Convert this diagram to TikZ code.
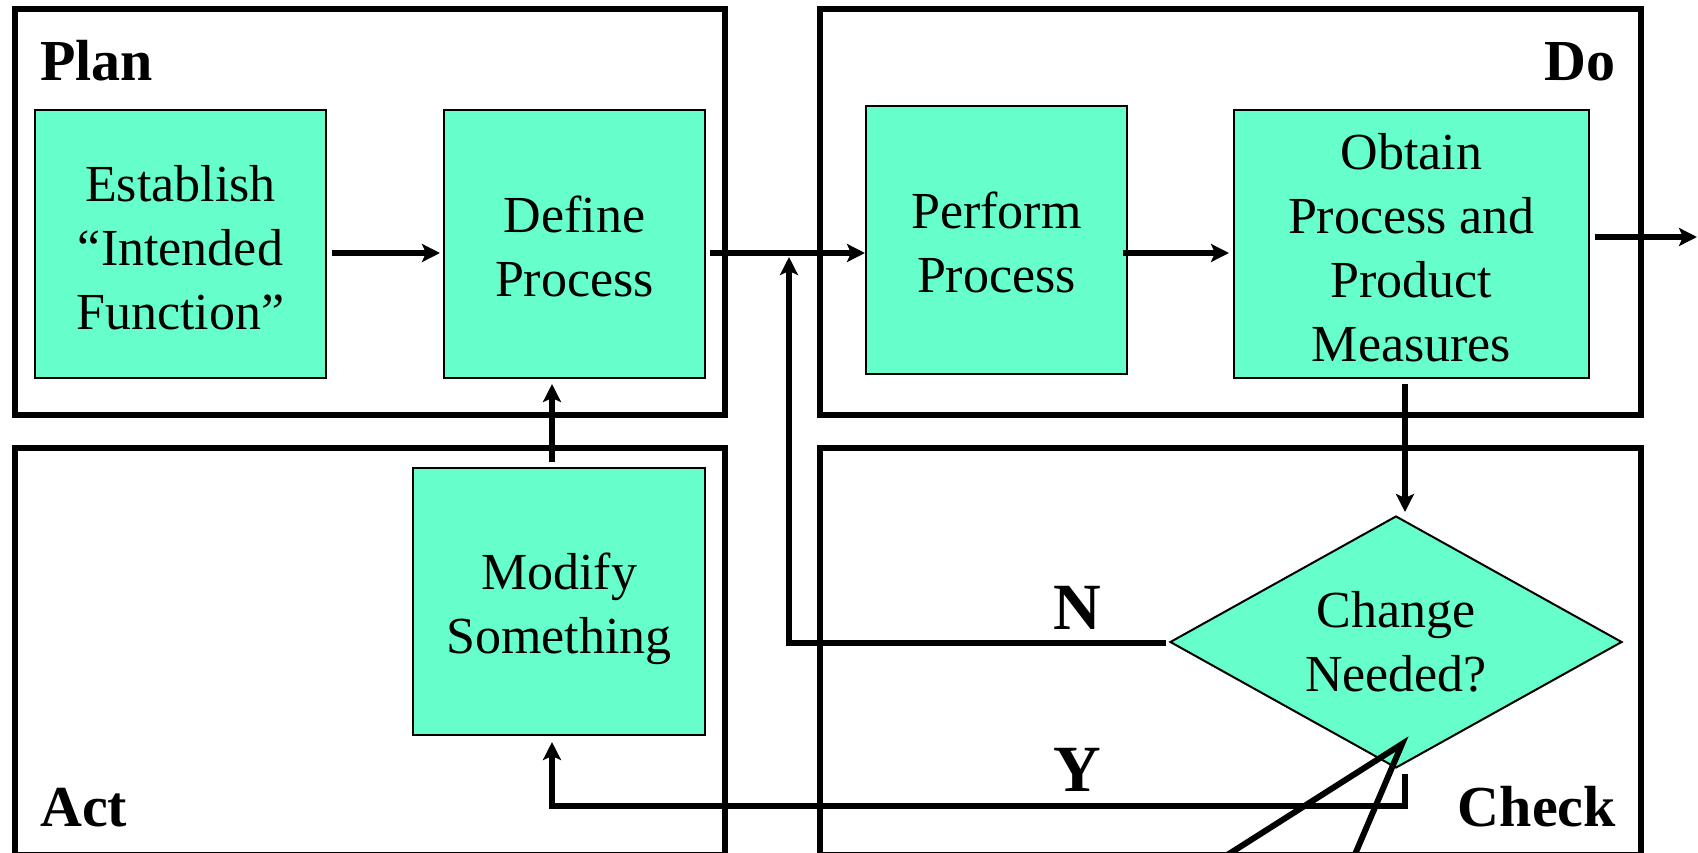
\documentclass[tikz,border=0pt]{standalone}
\usepackage{fontspec}
\setmainfont{Liberation Serif}
\usetikzlibrary{arrows.meta,shapes.geometric}
\definecolor{mint}{RGB}{102,255,204}
\begin{document}
\begin{tikzpicture}[x=1pt,y=-1pt,
  frame/.style={draw=black,line width=6pt},
  box/.style={draw=black,line width=2pt,fill=mint,inner sep=0pt},
  txt/.style={inner sep=0pt,align=center,font=\fontsize{52}{64}\selectfont},
  dia/.style={diamond,aspect=1.8,draw=black,line width=2pt,fill=mint,inner sep=0pt,align=center,font=\fontsize{52}{64}\selectfont,minimum width=452pt,minimum height=252pt},
  lbl/.style={inner sep=0pt,font=\fontsize{58}{64}\selectfont\bfseries},
  yn/.style={inner sep=0pt,font=\fontsize{66}{70}\selectfont\bfseries},
  conn/.style={line width=6pt},
  arr/.style={conn,-{Stealth[length=18pt,width=18pt,inset=4pt]}},
]
\useasboundingbox (0,0) rectangle (1698,852);
\clip (0,0) rectangle (1698,852);

% frames
\draw[frame] (15,9) rectangle (725,415);
\draw[frame] (820,9) rectangle (1641,415);
\draw[frame] (15,448) rectangle (725,855);
\draw[frame] (820,448) rectangle (1641,855);

\node[lbl,anchor=base west] (plan) at (40,80) {Plan};
\node[lbl,anchor=base east] (do) at (1616,80) {Do};
\node[lbl,anchor=base west] (act) at (40,826) {Act};
\node[lbl,anchor=base east] (check) at (1616,826) {Check};

% boxes
\node[box,minimum width=291pt,minimum height=268pt] (est) at (180.5,244) {};
\node[box,minimum width=261pt,minimum height=268pt] (def) at (574.5,244) {};
\node[box,minimum width=261pt,minimum height=268pt] (perf) at (996.5,240) {};
\node[box,minimum width=355pt,minimum height=268pt] (obt) at (1411.5,244) {};
\node[box,minimum width=292pt,minimum height=267pt] (mod) at (559,601.5) {};
\node[dia] (chg) at (1396,642) {Change\\Needed?};

\node[txt] (estT) at ([yshift=-4pt]est.center) {Establish\\``Intended\\Function''};
\node[txt] (defT) at ([yshift=-2pt]def.center) {Define\\Process};
\node[txt] (perfT) at ([yshift=-2pt]perf.center) {Perform\\Process};
\node[txt] (obtT) at ([yshift=-3.5pt]obt.center) {Obtain\\Process and\\Product\\Measures};
\node[txt] (modT) at ([yshift=-7.5pt]mod.center) {Modify\\Something};

\node[yn,anchor=base] (n) at (1077,629) {N};
\node[yn,anchor=base] (y) at (1077,791) {Y};

% connectors
\draw[arr] ([xshift=5pt,yshift=-9pt]est.east) -- ([xshift=-3pt,yshift=-9pt]def.west);
\draw[arr] ([xshift=4pt,yshift=-9pt]def.east) -- ([yshift=-13pt]perf.west);
\draw[arr] ([xshift=-5pt,yshift=-13pt]perf.east) -- ([xshift=-4pt,yshift=-9pt]obt.west);
\coordinate (out) at (1697,237);
\draw[arr] ([xshift=5pt,yshift=7pt]obt.east) -- (out);
\coordinate (a) at ([xshift=-6.5pt,yshift=-5pt]obt.south);
\draw[arr,shorten >=3pt] (a) -- (a |- chg.north);

\coordinate (nc) at (789,643);
\coordinate (ntip) at (789,257);
\draw[arr] ([xshift=-3pt,yshift=-1pt]chg.west) -- (nc) -- (ntip);

\draw[arr] ([xshift=9pt,yshift=-5pt]chg.south) -- ++(0,32) -| ([xshift=-7pt,yshift=-6pt]mod.south);
\draw[arr] ([xshift=-7pt,yshift=5pt]mod.north) -- ([xshift=-22.5pt,yshift=-5pt]def.south);

% callout lines
\coordinate (ctip) at (1402,744);
\coordinate (ca) at (1200.5,872);
\coordinate (cb) at (1347.5,872);
\draw[conn,line join=miter] (ca) -- (ctip) -- (cb);
\end{tikzpicture}
\end{document}
